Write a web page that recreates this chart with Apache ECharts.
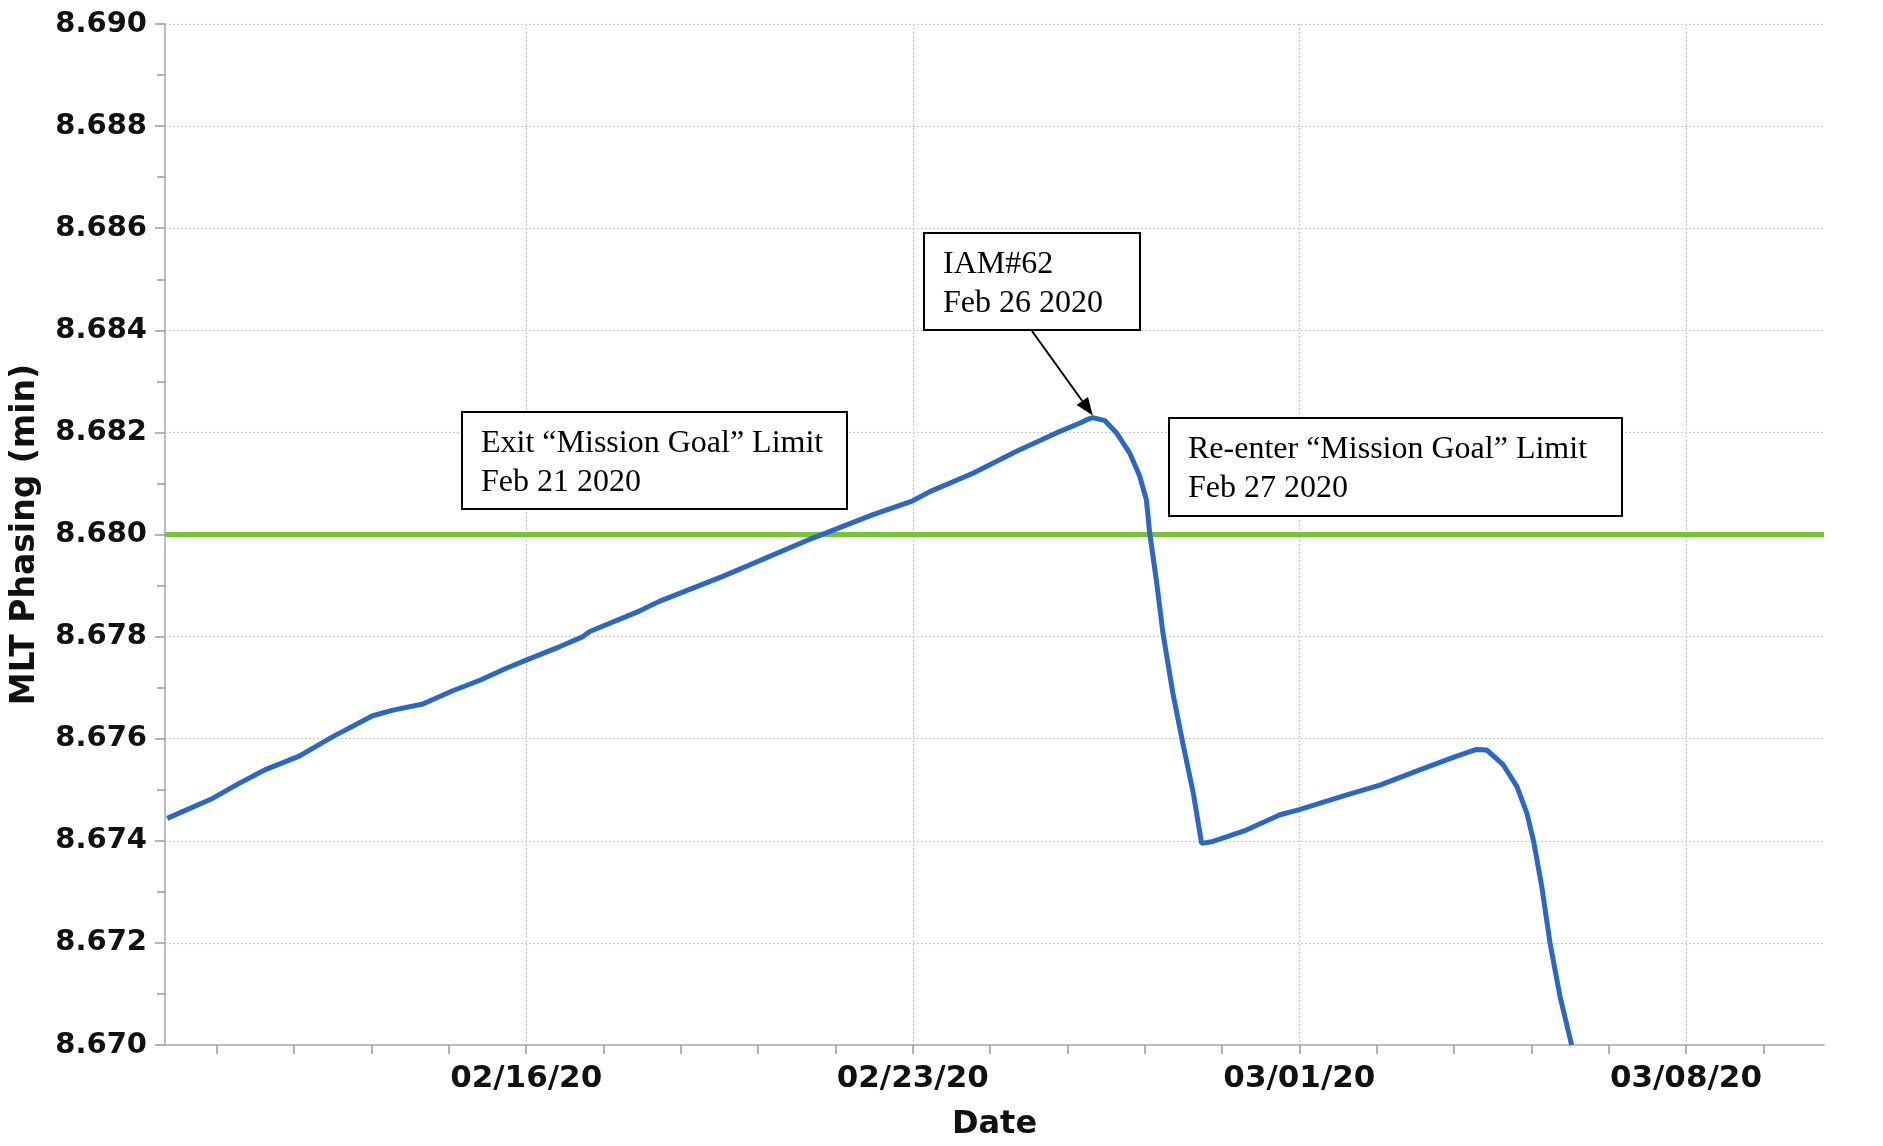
<!DOCTYPE html>
<html>
<head>
<meta charset="utf-8">
<title>MLT Phasing</title>
<script src="https://cdn.jsdelivr.net/npm/echarts@6/dist/echarts.min.js"></script>
<style>
  html, body { margin: 0; padding: 0; background: #fff; }
  #chart { width: 1883px; height: 1146px; }
</style>
</head>
<body>
<div id="chart"></div>
<script>
// x = days after 2020-02-02 00:00 (so 14 -> 02/16/20)
const days = [
  7.50, 8.32, 8.81, 9.29, 9.89, 10.50, 11.22, 11.59, 12.13, 12.67,
  13.15, 13.64, 14.00, 14.60, 15.03, 15.15, 16.05, 16.41, 17.56, 19.19,
  20.28, 21.00, 21.31, 22.09, 22.88, 23.60, 24.02, 24.15, 24.26, 24.48,
  24.69, 24.93, 25.11, 25.23, 25.29, 25.41, 25.53, 25.71, 25.89, 26.08,
  26.23, 26.41, 27.04, 27.65, 28.00, 28.86, 29.46, 30.18, 30.85, 31.21,
  31.39, 31.69, 31.94, 32.12, 32.24, 32.39, 32.54, 32.72, 32.93
]
const phasing = [
  8.67444, 8.67483, 8.67513, 8.67540, 8.67566, 8.67604, 8.67645, 8.67656, 8.67668, 8.67694,
  8.67714, 8.67738, 8.67754, 8.67780, 8.67800, 8.67810, 8.67850, 8.67869, 8.67918, 8.67993,
  8.68039, 8.68066, 8.68084, 8.68120, 8.68163, 8.68199, 8.68218, 8.68225, 8.68229, 8.68223,
  8.68199, 8.68159, 8.68114, 8.68068, 8.68003, 8.67911, 8.67807, 8.67689, 8.67591, 8.67493,
  8.67395, 8.67398, 8.67421, 8.67451, 8.67461, 8.67490, 8.67509, 8.67539, 8.67566, 8.67579,
  8.67578, 8.67549, 8.67506, 8.67454, 8.67400, 8.67310, 8.67199, 8.67095, 8.67000
]
const limitValue = 8.680

const yMin = 8.670
const yMax = 8.690
const yStep = 0.002
const dayMin = 7.46
const dayMax = 37.5

const labelDays = [14, 21, 28, 35]
const dateLabels = ['02/16/20', '02/23/20', '03/01/20', '03/08/20']
const minorTickDays = [8.4, 9.8, 11.2, 12.6, 14, 15.4, 16.8, 18.2, 19.6, 21, 22.4,
  23.8, 25.2, 26.6, 28, 29.4, 30.8, 32.2, 33.6, 35, 36.4]

// annotation boxes (text only, placed in pixels)
const notes = [
  { lines: ['Exit \u201cMission Goal\u201d Limit', 'Feb 21 2020'], box: [462, 412, 385, 97] },
  { lines: ['IAM#62', 'Feb 26 2020'], box: [924, 233, 216, 97] },
  { lines: ['Re-enter \u201cMission Goal\u201d Limit', 'Feb 27 2020'], box: [1169, 418, 453, 98] }
]
const arrowStart = [1032, 331]

const sansBold = { fontFamily: 'DejaVu Sans', fontWeight: 'bold', color: '#111' }
const gridLine = { color: '#c9c9c9', width: 1.2, type: [2, 2] }

const chart = echarts.init(document.getElementById('chart'))

const option = {
  backgroundColor: '#fff',
  animation: false,
  grid: { left: 165, right: 59, top: 24, bottom: 101 },
  xAxis: [
    {
      type: 'value',
      position: 'bottom',
      min: dayMin,
      max: dayMax,
      name: 'Date',
      nameLocation: 'middle',
      nameGap: 64,
      nameTextStyle: { ...sansBold, fontSize: 32 },
      axisLine: { onZero: false, lineStyle: { color: '#b7bec6', width: 2 } },
      axisTick: { show: false, customValues: labelDays },
      axisLabel: {
        ...sansBold,
        fontSize: 31,
        margin: 18,
        customValues: labelDays,
        formatter: v => dateLabels[labelDays.indexOf(v)] || ''
      },
      splitLine: { show: true, lineStyle: gridLine }
    },
    {
      // minor ticks only
      type: 'value',
      position: 'bottom',
      min: dayMin,
      max: dayMax,
      axisLine: { show: false, onZero: false },
      axisTick: { show: true, length: 9, customValues: minorTickDays, lineStyle: { color: '#9a9a9a', width: 1.5 } },
      axisLabel: { show: false },
      splitLine: { show: false }
    }
  ],
  yAxis: {
    type: 'value',
    min: yMin,
    max: yMax,
    interval: yStep,
    name: 'MLT Phasing (min)',
    nameLocation: 'middle',
    nameGap: 123,
    nameTextStyle: { ...sansBold, fontSize: 33 },
    axisLine: { show: true, onZero: false, lineStyle: { color: '#b7bec6', width: 2 } },
    axisTick: { show: true, length: 10, lineStyle: { color: '#9a9a9a', width: 1.5 } },
    minorTick: { show: true, splitNumber: 2, length: 8, lineStyle: { color: '#9a9a9a', width: 1.5 } },
    axisLabel: { ...sansBold, fontSize: 29, margin: 18, formatter: v => v.toFixed(3) },
    splitLine: { show: true, lineStyle: gridLine }
  },
  series: [
    {
      type: 'line',
      xAxisIndex: 0,
      data: days.map((d, i) => [d, phasing[i]]),
      showSymbol: false,
      symbol: 'none',
      lineStyle: { color: '#2b67c9', width: 5 },
      z: 3,
      markLine: {
        silent: true,
        symbol: 'none',
        z: 1,
        label: { show: false },
        lineStyle: { color: '#76c534', width: 5, type: 'solid' },
        data: [{ yAxis: limitValue }]
      }
    }
  ]
}

chart.setOption(option)

// arrow tip at the IAM peak, from the data
const peakIdx = phasing.indexOf(Math.max(...phasing))
const tip = chart.convertToPixel({ seriesIndex: 0 }, [days[peakIdx], phasing[peakIdx]])
tip[1] -= 2
const dx = tip[0] - arrowStart[0]
const dy = tip[1] - arrowStart[1]
const len = Math.sqrt(dx * dx + dy * dy)
const ux = dx / len
const uy = dy / len
const headLen = 18
const headHalf = 7
const baseX = tip[0] - ux * headLen
const baseY = tip[1] - uy * headLen

const graphics = []
notes.forEach(n => {
  const [bx, by, bw, bh] = n.box
  graphics.push({
    type: 'rect',
    shape: { x: bx, y: by, width: bw, height: bh },
    style: { fill: '#fff', stroke: '#000', lineWidth: 2 },
    z: 10
  })
  n.lines.forEach((t, i) => {
    graphics.push({
      type: 'text',
      x: bx + 19,
      y: by + 32 + i * 38.5,
      style: {
        text: t,
        fontFamily: 'Liberation Serif, Times New Roman, serif',
        fontSize: 32,
        fill: '#000',
        verticalAlign: 'middle',
        align: 'left'
      },
      z: 11
    })
  })
})
graphics.push({
  type: 'line',
  shape: { x1: arrowStart[0], y1: arrowStart[1], x2: baseX, y2: baseY },
  style: { stroke: '#000', lineWidth: 2 },
  z: 10
})
graphics.push({
  type: 'polygon',
  shape: {
    points: [
      tip,
      [baseX - uy * headHalf, baseY + ux * headHalf],
      [baseX + uy * headHalf, baseY - ux * headHalf]
    ]
  },
  style: { fill: '#000' },
  z: 10
})

chart.setOption({ graphic: graphics })
</script>
</body>
</html>
